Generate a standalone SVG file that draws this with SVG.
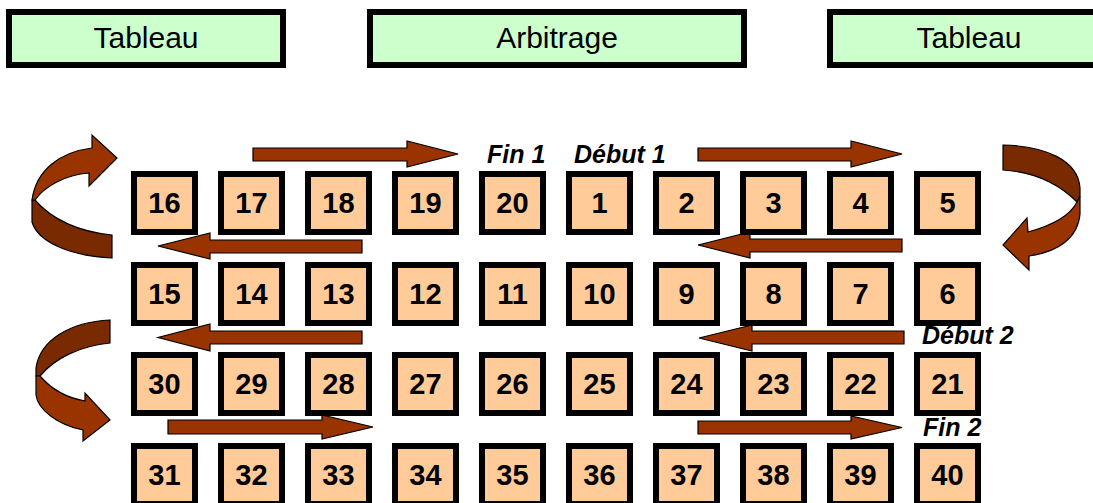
<svg xmlns="http://www.w3.org/2000/svg" width="1093" height="503" viewBox="0 0 1093 503">
<defs>
<style>
.hdr{fill:#CCFFCC;stroke:#000;stroke-width:6}
.hdrt{font-family:"Liberation Sans",Arial,sans-serif;font-size:30px;fill:#000;text-anchor:middle}
.sq{fill:#FFCC99;stroke:#000;stroke-width:6}
.num{font-family:"Liberation Sans",Arial,sans-serif;font-size:29px;font-weight:bold;fill:#000;text-anchor:middle}
.lbl{font-family:"Liberation Sans",Arial,sans-serif;font-size:25px;font-weight:bold;font-style:italic;fill:#000}
.arr{fill:#993300;stroke:#000;stroke-width:1.2;stroke-linejoin:miter}
.dark{fill:#7A2A00;stroke:#000;stroke-width:1.2}
</style>
</defs>
<rect width="1093" height="503" fill="#fff"/>
<g id="header-tableau-left"><rect class="hdr" x="9" y="12" width="274" height="53"/><text class="hdrt" x="146" y="48">Tableau</text></g>
<g id="header-arbitrage"><rect class="hdr" x="370" y="12" width="374" height="53"/><text class="hdrt" x="557" y="48">Arbitrage</text></g>
<g id="header-tableau-right"><rect class="hdr" x="830" y="12" width="285" height="53"/><text class="hdrt" x="969" y="48">Tableau</text></g>

<g id="connectors">
<path class="arr" d="M253,148 H407 V141 L458,154 L407,167 V161 H253 Z"/>
<path class="arr" d="M698,148 H851 V141 L902,154 L851,167 V161 H698 Z"/>
<path class="arr" d="M362,240 H210 V233 L158,246 L210,259 V253 H362 Z"/>
<path class="arr" d="M902,239 H750 V232 L698,245 L750,258 V252 H902 Z"/>
<path class="arr" d="M362,331 H210 V324 L158,337.5 L210,351 V344 H362 Z"/>
<path class="arr" d="M904,331 H752 V325 L699,338 L752,351 V344 H904 Z"/>
<path class="arr" d="M168,420 H322 V415 L373,427 L322,439 V434 H168 Z"/>
<path class="arr" d="M698,421 H851 V416 L902,427.5 L851,439 V434 H698 Z"/>
<path class="dark" d="M35,200 C52,220 80,232 112,235 L112,258 C70,256 38,242 32,222 L32,200 Z"/>
<path class="arr" d="M92,148 C60,152 36,170 32,200 L35,200 C45,186 65,175 89,173 L89,186 L117,158 L92,135 Z"/>
<path class="dark" d="M1003,145 C1045,146 1078,160 1080,188 L1080,196 L1077,202 C1060,185 1035,172 1003,170 Z"/>
<path class="arr" d="M1077,202 L1080,196 L1080,214 C1078,238 1058,252 1029,256 L1029,270 L1003,245 L1027,218 L1028,232 C1050,226 1070,216 1077,202 Z"/>
<path class="dark" d="M110,320 C70,322 40,340 36,368 L36,376 L40,376 C55,358 80,346 110,343 Z"/>
<path class="arr" d="M36,376 L40,376 C52,390 68,398 85,401 L85,393 L110,420 L83,441 L83,430 C58,425 38,410 36,395 Z"/>
</g>

<g id="labels">
<text class="lbl" x="487" y="163">Fin 1</text>
<text class="lbl" x="574" y="163">Début 1</text>
<text class="lbl" x="922" y="344">Début 2</text>
<text class="lbl" x="923" y="436">Fin 2</text>
</g>

<g id="n16"><rect class="sq" x="134" y="174" width="61" height="58"/><text class="num" x="164.5" y="213">16</text></g>
<g id="n17"><rect class="sq" x="221" y="174" width="61" height="58"/><text class="num" x="251.5" y="213">17</text></g>
<g id="n18"><rect class="sq" x="308" y="174" width="61" height="58"/><text class="num" x="338.5" y="213">18</text></g>
<g id="n19"><rect class="sq" x="395" y="174" width="61" height="58"/><text class="num" x="425.5" y="213">19</text></g>
<g id="n20"><rect class="sq" x="482" y="174" width="61" height="58"/><text class="num" x="512.5" y="213">20</text></g>
<g id="n1"><rect class="sq" x="569" y="174" width="61" height="58"/><text class="num" x="599.5" y="213">1</text></g>
<g id="n2"><rect class="sq" x="656" y="174" width="61" height="58"/><text class="num" x="686.5" y="213">2</text></g>
<g id="n3"><rect class="sq" x="743" y="174" width="61" height="58"/><text class="num" x="773.5" y="213">3</text></g>
<g id="n4"><rect class="sq" x="830" y="174" width="61" height="58"/><text class="num" x="860.5" y="213">4</text></g>
<g id="n5"><rect class="sq" x="917" y="174" width="61" height="58"/><text class="num" x="947.5" y="213">5</text></g>

<g id="n15"><rect class="sq" x="134" y="265" width="61" height="58"/><text class="num" x="164.5" y="304">15</text></g>
<g id="n14"><rect class="sq" x="221" y="265" width="61" height="58"/><text class="num" x="251.5" y="304">14</text></g>
<g id="n13"><rect class="sq" x="308" y="265" width="61" height="58"/><text class="num" x="338.5" y="304">13</text></g>
<g id="n12"><rect class="sq" x="395" y="265" width="61" height="58"/><text class="num" x="425.5" y="304">12</text></g>
<g id="n11"><rect class="sq" x="482" y="265" width="61" height="58"/><text class="num" x="512.5" y="304">11</text></g>
<g id="n10"><rect class="sq" x="569" y="265" width="61" height="58"/><text class="num" x="599.5" y="304">10</text></g>
<g id="n9"><rect class="sq" x="656" y="265" width="61" height="58"/><text class="num" x="686.5" y="304">9</text></g>
<g id="n8"><rect class="sq" x="743" y="265" width="61" height="58"/><text class="num" x="773.5" y="304">8</text></g>
<g id="n7"><rect class="sq" x="830" y="265" width="61" height="58"/><text class="num" x="860.5" y="304">7</text></g>
<g id="n6"><rect class="sq" x="917" y="265" width="61" height="58"/><text class="num" x="947.5" y="304">6</text></g>

<g id="n30"><rect class="sq" x="134" y="355" width="61" height="58"/><text class="num" x="164.5" y="394">30</text></g>
<g id="n29"><rect class="sq" x="221" y="355" width="61" height="58"/><text class="num" x="251.5" y="394">29</text></g>
<g id="n28"><rect class="sq" x="308" y="355" width="61" height="58"/><text class="num" x="338.5" y="394">28</text></g>
<g id="n27"><rect class="sq" x="395" y="355" width="61" height="58"/><text class="num" x="425.5" y="394">27</text></g>
<g id="n26"><rect class="sq" x="482" y="355" width="61" height="58"/><text class="num" x="512.5" y="394">26</text></g>
<g id="n25"><rect class="sq" x="569" y="355" width="61" height="58"/><text class="num" x="599.5" y="394">25</text></g>
<g id="n24"><rect class="sq" x="656" y="355" width="61" height="58"/><text class="num" x="686.5" y="394">24</text></g>
<g id="n23"><rect class="sq" x="743" y="355" width="61" height="58"/><text class="num" x="773.5" y="394">23</text></g>
<g id="n22"><rect class="sq" x="830" y="355" width="61" height="58"/><text class="num" x="860.5" y="394">22</text></g>
<g id="n21"><rect class="sq" x="917" y="355" width="61" height="58"/><text class="num" x="947.5" y="394">21</text></g>

<g id="n31"><rect class="sq" x="134" y="446" width="61" height="58"/><text class="num" x="164.5" y="485">31</text></g>
<g id="n32"><rect class="sq" x="221" y="446" width="61" height="58"/><text class="num" x="251.5" y="485">32</text></g>
<g id="n33"><rect class="sq" x="308" y="446" width="61" height="58"/><text class="num" x="338.5" y="485">33</text></g>
<g id="n34"><rect class="sq" x="395" y="446" width="61" height="58"/><text class="num" x="425.5" y="485">34</text></g>
<g id="n35"><rect class="sq" x="482" y="446" width="61" height="58"/><text class="num" x="512.5" y="485">35</text></g>
<g id="n36"><rect class="sq" x="569" y="446" width="61" height="58"/><text class="num" x="599.5" y="485">36</text></g>
<g id="n37"><rect class="sq" x="656" y="446" width="61" height="58"/><text class="num" x="686.5" y="485">37</text></g>
<g id="n38"><rect class="sq" x="743" y="446" width="61" height="58"/><text class="num" x="773.5" y="485">38</text></g>
<g id="n39"><rect class="sq" x="830" y="446" width="61" height="58"/><text class="num" x="860.5" y="485">39</text></g>
<g id="n40"><rect class="sq" x="917" y="446" width="61" height="58"/><text class="num" x="947.5" y="485">40</text></g>
</svg>
